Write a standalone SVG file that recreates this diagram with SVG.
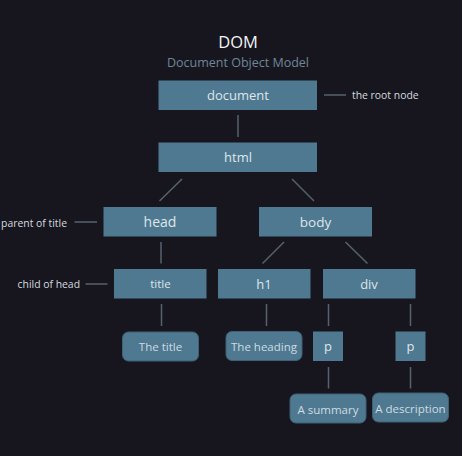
<svg xmlns="http://www.w3.org/2000/svg" width="462" height="456" viewBox="0 0 462 456">
<style>
text{font-family:"Open Sans","Noto Sans","DejaVu Sans",sans-serif;fill:#dfe6ea;text-anchor:middle}
.box{fill:#4e7990}
.leaf{fill:#4e7990;stroke:#3e6174;stroke-width:1}
.lbl{font-size:10.4px;fill:#d4dadf}
.ln{stroke:#56636f;stroke-width:1.5;fill:none}
.t13{font-size:13px}
.t12{font-size:11.5px}
.tl{font-size:11.5px;fill:#cfdbe2}
</style>
<rect width="462" height="456" fill="#17161f"/>
<text x="238" y="47.5" style="font-size:16.5px;fill:#f2f4f6">DOM</text>
<text x="238" y="66.5" style="font-size:12.5px;fill:#6e8797">Document Object Model</text>
<g id="connectors">
<line class="ln" x1="238" y1="115" x2="238" y2="137"/>
<line class="ln" x1="324" y1="95" x2="346" y2="95"/>
<line class="ln" x1="182" y1="179" x2="159.5" y2="201"/>
<line class="ln" x1="292" y1="179" x2="314" y2="201"/>
<line class="ln" x1="74.5" y1="222" x2="97" y2="222"/>
<line class="ln" x1="161" y1="242" x2="161" y2="263.5"/>
<line class="ln" x1="85.5" y1="284" x2="107.5" y2="284"/>
<line class="ln" x1="284" y1="242" x2="262.5" y2="263.5"/>
<line class="ln" x1="345.5" y1="242" x2="367.5" y2="263.5"/>
<line class="ln" x1="161.5" y1="304" x2="161.5" y2="326"/>
<line class="ln" x1="266.5" y1="304" x2="266.5" y2="326"/>
<line class="ln" x1="328.5" y1="304" x2="328.5" y2="326"/>
<line class="ln" x1="410.5" y1="304" x2="410.5" y2="326"/>
<line class="ln" x1="328.5" y1="367" x2="328.5" y2="388.5"/>
<line class="ln" x1="410.5" y1="367" x2="410.5" y2="388.5"/>
</g>
<g id="n-document"><rect class="box" x="158.5" y="80.5" width="158.5" height="29.5"/><text class="t13" x="238" y="100">document</text></g>
<text class="lbl" x="352" y="99" style="text-anchor:start">the root node</text>
<g id="n-html"><rect class="box" x="158.5" y="142.5" width="158.5" height="29.5"/><text class="t13" x="238" y="162">html</text></g>
<g id="n-head"><rect class="box" x="103.5" y="207" width="113" height="29.5"/><text x="160" y="227" style="font-size:14px">head</text></g>
<text class="lbl" x="67" y="226.5" style="text-anchor:end">parent of title</text>
<g id="n-body"><rect class="box" x="259" y="207" width="113" height="29.5"/><text x="315.5" y="227" style="font-size:13.5px">body</text></g>
<g id="n-title"><rect class="box" x="114" y="269" width="92.5" height="29.5"/><text class="t12" x="160.5" y="288">title</text></g>
<text class="lbl" x="80" y="288" style="text-anchor:end">child of head</text>
<g id="n-h1"><rect class="box" x="218" y="269" width="92.5" height="29.5"/><text class="t13" x="264" y="288.5">h1</text></g>
<g id="n-div"><rect class="box" x="323" y="269" width="92.5" height="29.5"/><text class="t13" x="369" y="288.5">div</text></g>
<g id="n-thetitle"><rect class="leaf" x="122.5" y="332" width="76" height="29" rx="6"/><text class="tl" x="160.5" y="351">The title</text></g>
<g id="n-heading"><rect class="leaf" x="226" y="331.5" width="76" height="29" rx="6"/><text class="tl" x="264" y="351">The heading</text></g>
<g id="n-p1"><rect class="box" x="313" y="331.5" width="30" height="29.5"/><text class="t13" x="328" y="350.5">p</text></g>
<g id="n-p2"><rect class="box" x="395.5" y="331.5" width="30" height="29.5"/><text class="t13" x="410.5" y="350.5">p</text></g>
<g id="n-summary"><rect class="leaf" x="290" y="394" width="76" height="29" rx="6"/><text class="tl" x="328" y="413.5">A summary</text></g>
<g id="n-desc"><rect class="leaf" x="372.5" y="393" width="76" height="29" rx="6"/><text class="tl" x="410.5" y="412.5">A description</text></g>
</svg>
